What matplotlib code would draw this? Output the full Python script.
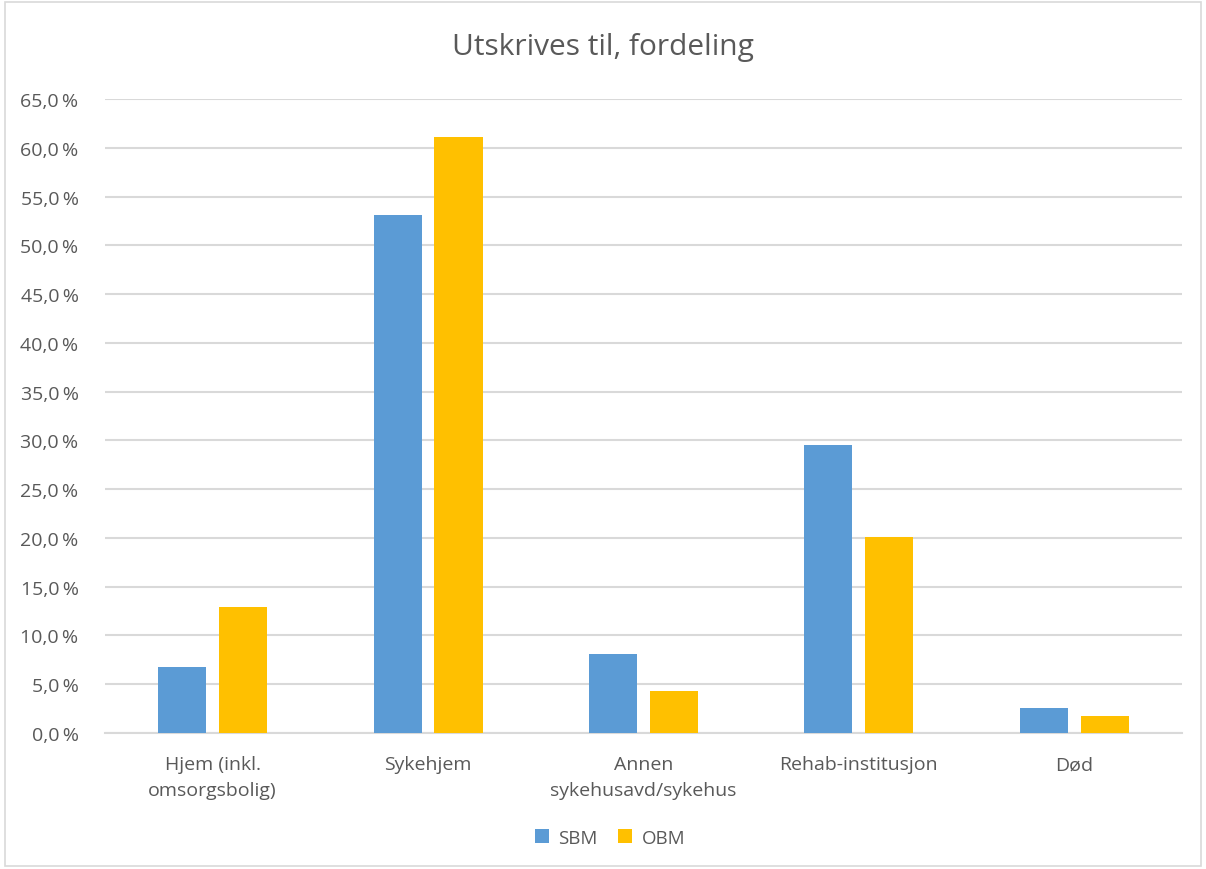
import matplotlib
matplotlib.use("Agg")
import matplotlib.pyplot as plt
from matplotlib.ticker import FuncFormatter, MultipleLocator
from matplotlib.patches import Rectangle
import numpy as np

categories = ["Hjem (inkl.\nomsorgsbolig)", "Sykehjem", "Annen\nsykehusavd/sykehus",
              "Rehab-institusjon", "Død"]
sbm = [6.8, 53.1, 8.1, 29.5, 2.6]
obm = [12.9, 61.1, 4.3, 20.1, 1.7]
series_names = ["SBM", "OBM"]
colors = ["#5B9BD5", "#FFC000"]

plt.rcParams['font.family'] = ['Open Sans', 'DejaVu Sans']
text_color = "#595959"

fig = plt.figure(figsize=(12.06, 8.70), dpi=100)
ax = fig.add_axes([0.087, 0.1563, 0.893, 0.7287])

x = np.arange(len(categories))
w = 0.223
gap = 0.06
ax.bar(x - (w + gap) / 2, sbm, width=w, color=colors[0], label=series_names[0], zorder=3)
ax.bar(x + (w + gap) / 2, obm, width=w, color=colors[1], label=series_names[1], zorder=3)

ax.set_xlim(-0.5, len(categories) - 0.5)
ax.set_ylim(0, 65)
ax.yaxis.set_major_locator(MultipleLocator(5))
ax.yaxis.set_major_formatter(FuncFormatter(lambda v, p: f"{v:.1f}".replace(".", ",") + "\u2009%"))
ax.grid(axis="y", color="#d9d9d9", linewidth=1.5, zorder=0)
for s in ["top", "right", "left"]:
    ax.spines[s].set_visible(False)
ax.spines["bottom"].set_color("#d9d9d9")
ax.spines["bottom"].set_linewidth(1.5)
ax.tick_params(axis="both", length=0, labelsize=14, labelcolor=text_color)
ax.tick_params(axis="y", pad=19)
ax.tick_params(axis="x", pad=16)
ax.set_xticks(x)
ax.set_xticklabels(categories, linespacing=1.55)

fig.text(0.5, 0.945, "Utskrives til, fordeling", ha="center", va="center",
         fontsize=21.5, color=text_color)

leg = fig.legend(loc="center", bbox_to_anchor=(0.506, 0.036), ncol=2, frameon=False,
                 fontsize=13.5, handlelength=0.75, handleheight=0.75, handletextpad=0.5,
                 columnspacing=1.1)
for t in leg.get_texts():
    t.set_color(text_color)

fig.patches.append(Rectangle((0.004, 0.003), 0.992, 0.994, transform=fig.transFigure,
                             fill=False, edgecolor="#d9d9d9", linewidth=1.2))

fig.savefig("out.png", dpi=100)
